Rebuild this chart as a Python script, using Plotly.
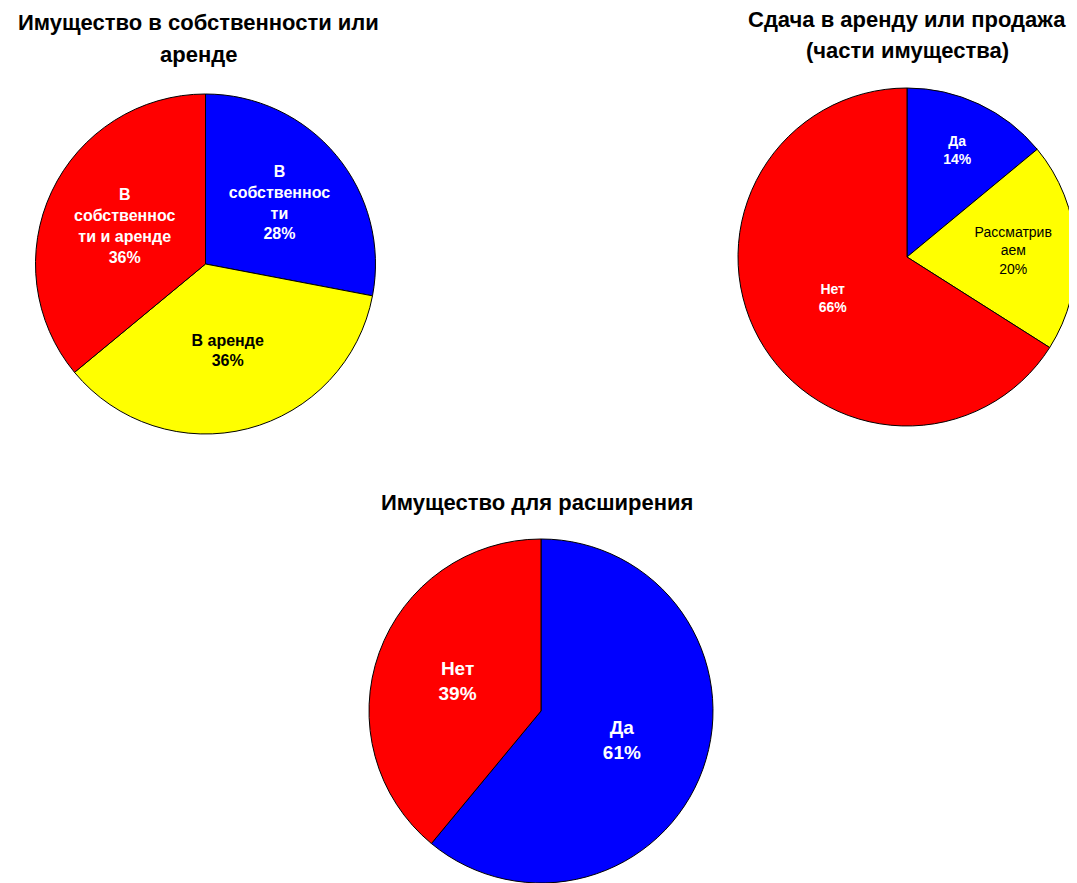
import plotly.graph_objects as go

# Chart 1
own_labels = ["В собственности", "В аренде", "В собственности и аренде"]
own_text = ["В<br>собственнос<br>ти", "В аренде", "В<br>собственнос<br>ти и аренде"]
own_values = [28, 36, 36]
own_colors = ["#0000FF", "#FFFF00", "#FF0000"]
own_textcolors = ["white", "black", "white"]
own_bold = [True, True, True]

# Chart 2
rent_labels = ["Да", "Рассматриваем", "Нет"]
rent_text = ["Да", "Рассматрив<br>аем", "Нет"]
rent_values = [14, 20, 66]
rent_colors = ["#0000FF", "#FFFF00", "#FF0000"]
rent_textcolors = ["white", "black", "white"]
rent_bold = [True, False, True]

# Chart 3
exp_labels = ["Да", "Нет"]
exp_text = ["Да", "Нет"]
exp_values = [61, 39]
exp_colors = ["#0000FF", "#FF0000"]
exp_textcolors = ["white", "white"]
exp_bold = [True, True]

title1_lines = ["Имущество в собственности или", "аренде"]
title2_lines = ["Сдача в аренду или продажа", "(части имущества)"]
title3_lines = ["Имущество для расширения"]

FONT = "Liberation Sans, Arial, sans-serif"
SW, SH = 1077, 883   # window
OFF = 8              # page body margin
W, H = SW - OFF, SH - OFF

def px(sx):
    return (sx - OFF) / W

def py(sy):
    return 1 - (sy - OFF) / H

def dom(x0, x1, y0, y1):
    return dict(x=[max(0, px(x0)), min(1, px(x1))], y=[max(0, py(y1)), min(1, py(y0))])

def pie(labels, text, values, colors, tcolors, bold, domain, size):
    tmpl = ["<b>%{text}<br>%{percent:.0%}</b>" if b else "%{text}<br>%{percent:.0%}" for b in bold]
    return go.Pie(
        labels=labels, values=values, text=text,
        texttemplate=tmpl, textposition="inside",
        insidetextorientation="horizontal",
        sort=False, direction="clockwise", rotation=0,
        marker=dict(colors=colors, line=dict(color="black", width=1)),
        insidetextfont=dict(color=tcolors, size=size, family=FONT),
        domain=domain, showlegend=False, hoverinfo="label+percent",
    )

fig = go.Figure()
fig.add_trace(pie(own_labels, own_text, own_values, own_colors, own_textcolors, own_bold,
                  dom(35, 376, 94, 434), 16))
fig.add_trace(pie(rent_labels, rent_text, rent_values, rent_colors, rent_textcolors, rent_bold,
                  dom(738, 1076, 88, 426), 14))
fig.add_trace(pie(exp_labels, exp_text, exp_values, exp_colors, exp_textcolors, exp_bold,
                  dom(369, 713, 539, 883), 19))

title_specs = [(title1_lines, 198, [22, 54]),
               (title2_lines, 907, [20, 50]),
               (title3_lines, 537, [502])]
for lines, cx, ys in title_specs:
    for line, cy in zip(lines, ys):
        fig.add_annotation(text="<b>" + line + "</b>", x=px(cx), y=py(cy),
                           xref="paper", yref="paper", xanchor="center", yanchor="middle",
                           showarrow=False, font=dict(family=FONT, size=22, color="black"))

fig.update_layout(width=W, height=H, margin=dict(l=0, r=0, t=0, b=0),
                  paper_bgcolor="white", plot_bgcolor="white",
                  font=dict(family=FONT))
fig.write_html("out.html")
